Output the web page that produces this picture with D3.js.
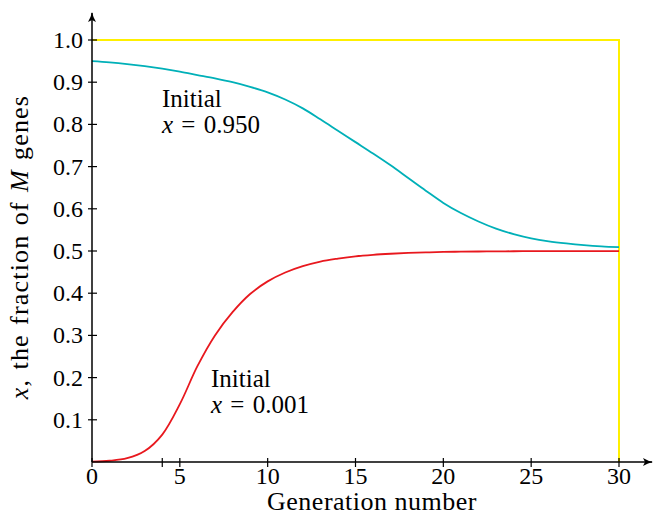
<!DOCTYPE html>
<html>
<head>
<meta charset="utf-8">
<script src="https://cdn.jsdelivr.net/npm/d3@7"></script>
<style>
  body { margin: 0; background: #fff; }
  text { font-family: "Liberation Serif", serif; fill: #000; }
</style>
</head>
<body>
<div id="chart"></div>
<script>
// generations
const generations = [0, 1, 2, 3, 4, 5, 6, 7, 8, 9, 10, 11, 12, 13, 14, 15, 16, 17, 18, 19, 20,
                     21, 22, 23, 24, 25, 26, 27, 28, 29, 30];
// start at x = 0.001
const lowStart = [0.001, 0.003, 0.009, 0.026, 0.065, 0.137, 0.227, 0.300, 0.355, 0.398, 0.428,
                  0.449, 0.464, 0.475, 0.482, 0.4875, 0.491, 0.4935, 0.4954, 0.4967, 0.4977,
                  0.4984, 0.4988, 0.4992, 0.4994, 0.4996, 0.4997, 0.4998, 0.4998, 0.4999, 0.4999];
// start at x = 0.950
const highStart = [0.950, 0.947, 0.943, 0.938, 0.932, 0.925, 0.917, 0.909, 0.900, 0.889, 0.876,
                   0.859, 0.838, 0.812, 0.785, 0.758, 0.731, 0.703, 0.673, 0.643, 0.614,
                   0.590, 0.570, 0.553, 0.540, 0.530, 0.523, 0.518, 0.514, 0.511, 0.509];
const xTicks = [0, 5, 10, 15, 20, 25, 30];
const xExtraTick = [4];
const yTicks = [0.1, 0.2, 0.3, 0.4, 0.5, 0.6, 0.7, 0.8, 0.9, 1.0];

var width = 653;
var height = 516;
var plotLeft = 92, plotRight = 619, plotTop = 40, plotBottom = 462;

var svg = d3.select("#chart").append("svg")
    .attr("width", width)
    .attr("height", height);

var x = d3.scaleLinear().domain([0, 30]).range([plotLeft, plotRight]);
var y = d3.scaleLinear().domain([0, 1]).range([plotBottom, plotTop]);

// yellow frame (top at 1.0, right at 30)
svg.append("path")
    .attr("d", "M" + x(0) + "," + y(1) + "H" + x(30) + "V" + y(0))
    .attr("fill", "none")
    .attr("stroke", "#fff000")
    .attr("stroke-width", 2);

var line = d3.line()
    .x(function (d, i) { return x(generations[i]); })
    .y(function (d) { return y(d); })
    .curve(d3.curveCatmullRom.alpha(0.5));

svg.append("path").datum(highStart)
    .attr("d", line)
    .attr("fill", "none")
    .attr("stroke", "#00b0b8")
    .attr("stroke-width", 1.8);

svg.append("path").datum(lowStart)
    .attr("d", line)
    .attr("fill", "none")
    .attr("stroke", "#e8181e")
    .attr("stroke-width", 1.8);

// axes with arrows
svg.append("defs").append("marker")
    .attr("id", "arrow")
    .attr("viewBox", "0 0 10 10")
    .attr("refX", 9).attr("refY", 5)
    .attr("markerWidth", 10).attr("markerHeight", 10)
    .attr("markerUnits", "userSpaceOnUse")
    .attr("orient", "auto")
    .append("path")
    .attr("d", "M0,1 Q5,4 10,5 Q5,6 0,9 L2,5 Z")
    .attr("fill", "#000");

svg.append("line")
    .attr("x1", x(0)).attr("y1", y(0))
    .attr("x2", 652).attr("y2", y(0))
    .attr("stroke", "#000").attr("stroke-width", 1.5)
    .attr("marker-end", "url(#arrow)");
svg.append("line")
    .attr("x1", x(0)).attr("y1", y(0))
    .attr("x2", x(0)).attr("y2", 13)
    .attr("stroke", "#000").attr("stroke-width", 1.5)
    .attr("marker-end", "url(#arrow)");

// x ticks
svg.selectAll(".xtick").data(xTicks.concat(xExtraTick)).enter()
    .append("line")
    .attr("x1", d => x(d)).attr("x2", d => x(d))
    .attr("y1", y(0) - 4).attr("y2", y(0) + 5)
    .attr("stroke", "#000").attr("stroke-width", 1.2);
svg.selectAll(".xlab").data(xTicks).enter()
    .append("text")
    .attr("x", d => x(d)).attr("y", y(0) + 22)
    .attr("text-anchor", "middle")
    .style("font-size", "24px")
    .text(d => d);

// y ticks
svg.selectAll(".ytick").data(yTicks).enter()
    .append("line")
    .attr("x1", x(0) - 4).attr("x2", x(0) + 5)
    .attr("y1", d => y(d)).attr("y2", d => y(d))
    .attr("stroke", "#000").attr("stroke-width", 1.2);
svg.selectAll(".ylab").data(yTicks).enter()
    .append("text")
    .attr("x", 83).attr("y", d => y(d) + 8)
    .attr("text-anchor", "end")
    .style("font-size", "24px")
    .text(d => d.toFixed(1));

// axis titles
svg.append("text")
    .attr("x", 372).attr("y", 510)
    .attr("text-anchor", "middle")
    .style("font-size", "26px")
    .style("letter-spacing", "0.5px")
    .text("Generation number");

var yt = svg.append("text")
    .attr("transform", "translate(28,247) rotate(-90)")
    .attr("text-anchor", "middle")
    .style("font-size", "26px")
    .style("letter-spacing", "1.2px")
    .style("word-spacing", "1.5px");
yt.append("tspan").style("font-style", "italic").text("x");
yt.append("tspan").text(", the fraction of ");
yt.append("tspan").style("font-style", "italic").text("M");
yt.append("tspan").text(" genes");

// annotations
function note(px, py, val) {
    var t = svg.append("text").attr("x", px).attr("y", py).style("font-size", "25px");
    t.append("tspan").text("Initial");
    var t2 = svg.append("text").attr("x", px).attr("y", py + 26)
        .style("font-size", "25px")
        .style("word-spacing", "2px");
    t2.append("tspan").style("font-style", "italic").text("x");
    t2.append("tspan").text(" = " + val);
}
note(162, 107, "0.950");
note(211, 387, "0.001");
</script>
</body>
</html>
